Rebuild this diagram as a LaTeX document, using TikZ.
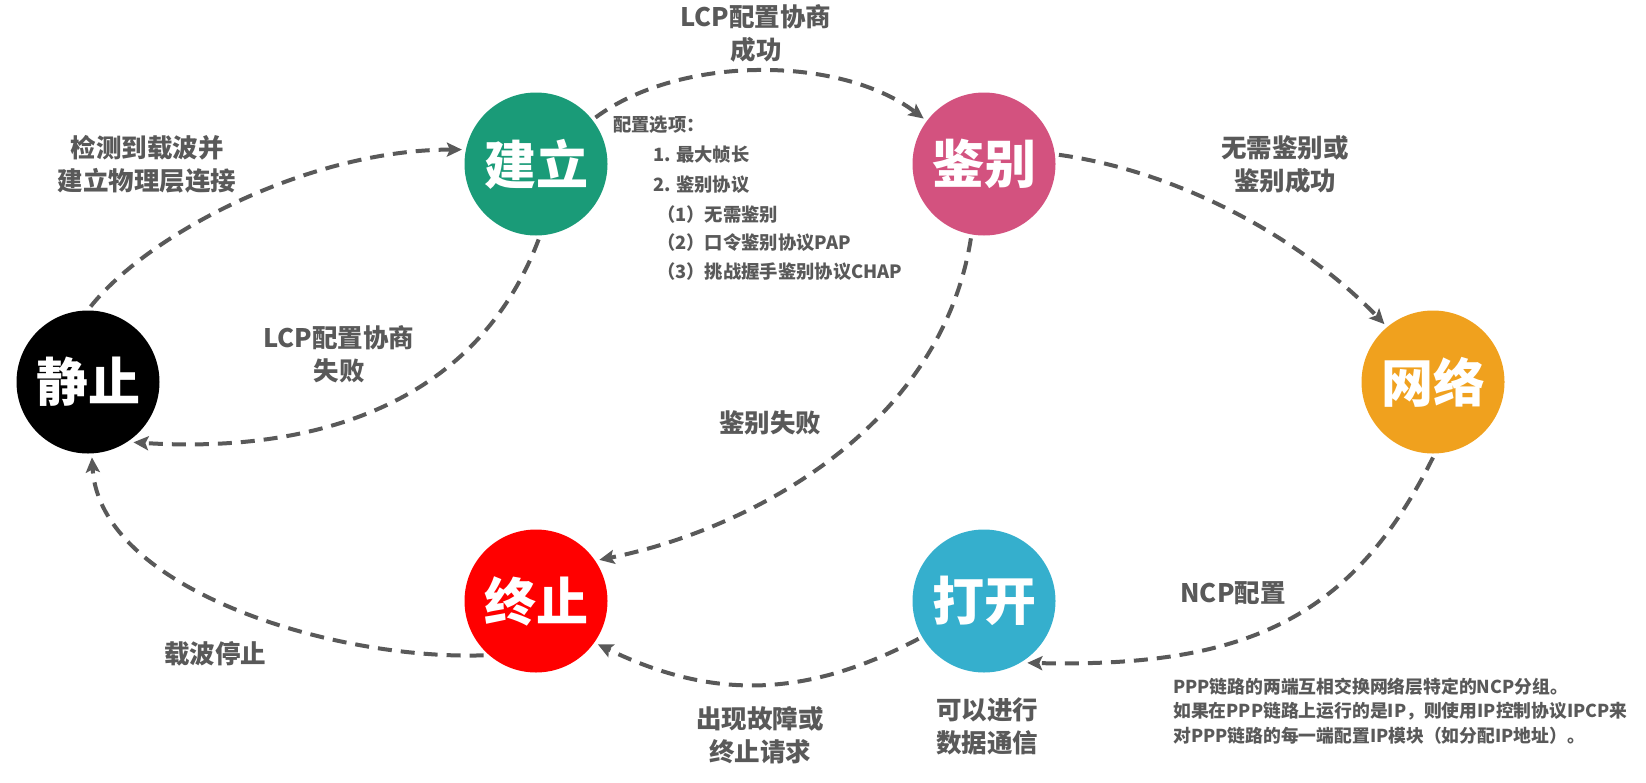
\documentclass[tikz,border=0pt]{standalone}
\usepackage{fontspec}
\setmainfont{Noto Sans CJK SC}
\usetikzlibrary{arrows.meta}
\definecolor{cgreen}{HTML}{1A9B78}
\definecolor{cpink}{HTML}{D3527F}
\definecolor{corange}{HTML}{F0A11E}
\definecolor{cblue}{HTML}{35AFCD}
\definecolor{cred}{HTML}{FF0000}
\definecolor{txtgray}{HTML}{595959}
\definecolor{arrowgray}{HTML}{595959}
\begin{document}
\begin{tikzpicture}[x=1pt,y=-1pt,
  state/.style={circle, minimum size=143pt, inner sep=0pt, outer sep=4pt, text=white, font=\bfseries\fontsize{52}{52}\selectfont},
  conn/.style={draw=arrowgray, line width=4pt, dash pattern=on 14pt off 9pt, -{Stealth[length=15pt,width=14pt,inset=3pt]}},
  lbl/.style={text=txtgray, font=\bfseries\fontsize{25.5}{33}\selectfont, align=center, inner sep=0pt},
  small/.style={text=txtgray, font=\bfseries\fontsize{18.3}{24.5}\selectfont, align=left, inner sep=0pt, anchor=west},
  note/.style={text=txtgray, font=\bfseries\fontsize{17.8}{24.5}\selectfont, align=left, inner sep=0pt, anchor=west},
]
\useasboundingbox (0,0) rectangle (1646,782);

% states
\node[state, fill=black]   (jz) at (88,382)   {静止};
\node[state, fill=cgreen]  (jl) at (536,164)  {建立};
\node[state, fill=cpink]   (jb) at (984,164)  {鉴别};
\node[state, fill=corange] (jw) at (1433,382) {网络};
\node[state, fill=cblue]   (jd) at (984,601)  {打开};
\node[state, fill=cred]    (jt) at (536,601)  {终止};

% labels
\node[lbl] (l1) at (147,164) {检测到载波并\\建立物理层连接};
\node[lbl] (l2) at (756,33)  {LCP配置协商\\成功};
\node[lbl] (l3) at (1285,164) {无需鉴别或\\鉴别成功};
\node[lbl] (l4) at (339,354) {LCP配置协商\\失败};
\node[lbl] (l5) at (770,423) {鉴别失败};
\node[lbl] (l6) at (1233,593) {NCP配置};
\node[lbl] (l7) at (215,654) {载波停止};
\node[lbl] (l8) at (760,735) {出现故障或\\终止请求};
\node[lbl] (l9) at (987,726) {可以进行\\数据通信};

% config options
\node[small] (c0) at (613,125) {配置选项：};
\node[small] (c1) at (653,155) {1. 最大帧长};
\node[small] (c2) at (653,185) {2. 鉴别协议};
\node[small] (c3) at (657,215) {（1）无需鉴别};
\node[small] (c4) at (657,243) {（2）口令鉴别协议PAP};
\node[small] (c5) at (657,272) {（3）挑战握手鉴别协议CHAP};

% NCP note
\node[note] (nt) at (1173,711) {PPP链路的两端互相交换网络层特定的NCP分组。\\如果在PPP链路上运行的是IP，则使用IP控制协议IPCP来\\对PPP链路的每一端配置IP模块（如分配IP地址）。};

% connectors
\draw[conn] (jz.88) .. controls +(60,-75) and +(-150,0) .. (jl.169);
\draw[conn] (jl.38) .. controls +(85,-63) and +(-83,-63) .. (jb.143);
\draw[conn] (jb.7) .. controls +(128,18) and +(-77,-80) .. (jw.130);
\draw[conn] (jw.-90) .. controls +(-80,160) and +(220,5) .. (jd.-55);
\draw[conn] (jd.-150) .. controls +(-110,58) and +(117,57) .. (jt.-35);
\draw[conn] (jt.226) .. controls +(-150,5) and +(8,132) .. (jz.-87);
\draw[conn] (jl.-88) .. controls +(-68,180) and +(156,10) .. (jz.-53);
\draw[conn] (jb.-100) .. controls +(-30,190) and +(150,-30) .. (jt.33);
\end{tikzpicture}
\end{document}
